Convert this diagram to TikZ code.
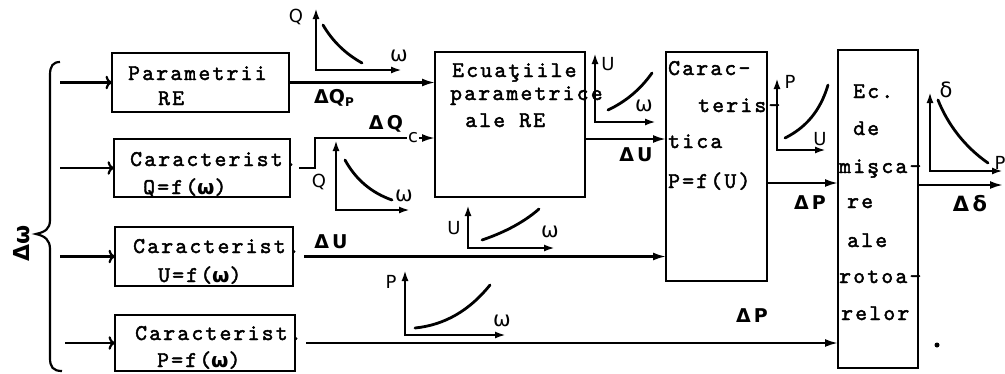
\documentclass[tikz,border=0pt]{standalone}
\usepackage{fontspec}
\usetikzlibrary{arrows.meta,calc}
\newfontfamily\tw{lmmono10-regular.otf}[LetterSpace=10,FakeBold=2]
\newfontfamily\lbl{DejaVu Sans}
\begin{document}
\begin{tikzpicture}[x=1pt,y=-1pt,
 blk/.style={draw, line width=2.4pt, inner sep=0pt, outer sep=0pt},
 txt/.style={anchor=base west, inner sep=0pt, font=\tw\fontsize{22.5}{25}\selectfont},
 lab/.style={inner sep=0pt, font=\lbl\bfseries\fontsize{19}{21}\selectfont},
 axl/.style={inner sep=0pt, font=\lbl\fontsize{18}{20}\selectfont},
 om/.style={inner sep=0pt, font=\lbl\fontsize{21}{22}\selectfont},
 conn/.style={line width=2.2pt, -{Latex[length=13pt,width=8pt]}},
 ax/.style={line width=2.2pt, {Latex[length=11pt,width=7pt]}-{Latex[length=11pt,width=7pt]}},
 crv/.style={line width=2.8pt, line cap=round}]
\useasboundingbox (0,0) rectangle (1005,373);
\newcommand\omb{{\lbl\bfseries\fontsize{20}{20}\selectfont ω}}
% boxes
\node[blk, minimum width=177pt, minimum height=59pt] (par) at (200.5,82.5) {};
\node[blk, minimum width=176pt, minimum height=58pt] (qbox) at (202,168) {};
\node[blk, minimum width=178pt, minimum height=59pt] (ubox) at (204,256.5) {};
\node[blk, minimum width=180pt, minimum height=56pt] (pbox) at (205,343) {};
\node[blk, minimum width=150pt, minimum height=145pt] (ecuat) at (510,124.5) {};
\node[blk, minimum width=101pt, minimum height=229pt] (car) at (716.5,166.5) {};
\node[blk, minimum width=80pt, minimum height=318pt] (ecm) at (878,209) {};
% box texts
\node[txt] (t1) at (128,80) {Parametrii};
\node[txt] (t2) at (158,105) {RE};
\node[txt] (t3) at (130,166) {Caracterist.};
\node[txt] (t4) at (143,194) {Q=f(\omb)};
\node[txt] (t5) at (133,253) {Caracterist.};
\node[txt] (t6) at (158,282) {U=f(\omb)};
\node[txt] (t7) at (135,340) {Caracterist.};
\node[txt] (t8) at (157,367) {P=f(\omb)};
\node[txt] (t9) at (452,77) {Ecuaţiile};
\node[txt] (t10) at (450,100) {parametrice};
\node[txt] (t11) at (465,127) {ale RE};
\node[txt] (t12) at (668,75) {Carac-};
\node[txt] (t13) at (698,112) {teris-};
\node[txt] (t14) at (668,148) {tica};
\node[txt] (t15) at (668,188) {P=f(U)};
\node[txt] (t16) at (853,98) {Ec.};
\node[txt] (t17) at (853,135) {de};
\node[txt] (t18) at (839,173) {mişca-};
\node[txt] (t19) at (847,208) {re};
\node[txt] (t20) at (847,247) {ale};
\node[txt] (t21) at (839,283) {rotoa-};
\node[txt] (t22) at (841,320) {relor};
% brace and input
\draw[line width=2.2pt] (60,62) .. controls (53,62) and (50,66) .. (50,75) -- (50,220)
  .. controls (50,229) and (45,232) .. (36,234) .. controls (45,236) and (50,240) .. (50,249)
  -- (50,358) .. controls (50,367) and (53,371) .. (62,371);
\node[lab, rotate=90, font=\lbl\bfseries\fontsize{22}{24}\selectfont] (dw) at (22,243) {Δω};
\draw[conn, <-] (par.west) -- ++(-52,0);
\draw[conn, <-] (qbox.west) -- ++(-54,0);
\draw[conn, <-] (ubox.west) -- ++(-55,0);
\draw[conn, <-] (pbox.west) -- ++(-50,0);
% connectors
\coordinate (qin) at ([yshift=-13.5pt]ecuat.west);
\coordinate (eu) at ([yshift=-14.5pt]ecuat.east);
\coordinate (cp) at ([yshift=-16.5pt]car.east);
\coordinate (eo) at ([yshift=24pt]ecm.east);
\coordinate (out) at (1003,185);
\coordinate (qs) at ([xshift=9pt]qbox.east);
\coordinate (us) at ([xshift=11pt]ubox.east);
\coordinate (ps) at ([xshift=11pt]pbox.east);
\draw[conn] (par.east) -- (par.east -| ecuat.west);
\draw[conn] (qs) -- ++(16,0) |- (qin);
\draw[conn] (eu) -- (eu -| car.west);
\draw[conn] (us) -- (us -| car.west);
\draw[conn] (cp) -- (cp -| ecm.west);
\draw[conn] (ps) -- (ps -| ecm.west);
\draw[conn] (eo) -- (out);
% connector labels
\node[lab] (lqp) at (334,98) {ΔQ\raisebox{-3pt}{\fontsize{12}{12}\selectfont P}};
\node[lab] (lqc) at (386,124) {Δ\,Q};
\node[axl, fill=white, inner sep=1pt] (lqc2) at (413,138) {c};
\node[lab] (lu1) at (636,155) {Δ\,U};
\node[lab] (lu2) at (331,242) {Δ\,U};
\node[lab] (lp1) at (810,203) {Δ\,P};
\node[lab] (lp2) at (752,316) {Δ\,P};
\node[lab, font=\lbl\bfseries\fontsize{21}{22}\selectfont] (ld) at (970,204) {Δ\,δ};
% mini graphs
\draw[ax] (316,8) -- (316,70) -- (402,70);
\draw[crv] (323,25) .. controls (333,42) and (346,54) .. (362,63);
\node[axl] (g1y) at (296,17) {Q};
\node[om] (g1x) at (399,56) {ω};
\draw[ax] (336,140) -- (336,210) -- (410,210);
\draw[crv] (345,160) .. controls (356,180) and (372,193) .. (392,200);
\node[axl] (g2y) at (319,182) {Q};
\node[om] (g2x) at (404,196) {ω};
\draw[ax] (595,53) -- (595,122) -- (656,122);
\draw[crv] (608,110) .. controls (625,102) and (640,90) .. (652,73);
\node[axl] (g3y) at (608,64) {U};
\node[om] (g3x) at (644,106) {ω};
\draw[ax] (468,205) -- (468,248) -- (555,248);
\draw[crv] (482,240) .. controls (500,234) and (522,224) .. (539,209);
\node[axl] (g4y) at (454,228) {U};
\node[om] (g4x) at (550,232) {ω};
\draw[ax] (405,270) -- (405,335) -- (506,335);
\draw[crv] (415,328) .. controls (445,325) and (470,310) .. (490,285);
\node[axl] (g5y) at (391,282) {P};
\node[om] (g5x) at (502,321) {ω};
\draw[ax] (777,78) -- (777,150) -- (826,150);
\draw[crv] (785,138) .. controls (805,128) and (820,112) .. (828,85);
\node[axl] (g6y) at (790,82) {P};
\node[axl] (g6x) at (820,139) {U};
\draw[ax] (930,92) -- (930,171) -- (1003,171);
\draw[crv] (938,100) .. controls (948,125) and (965,147) .. (988,163);
\node[axl, font=\lbl\fontsize{21}{22}\selectfont] (g7y) at (946,90) {δ};
\node[axl] (g7x) at (1000,163) {P};
\fill (937,345) circle (2.5pt);
\end{tikzpicture}
\end{document}
